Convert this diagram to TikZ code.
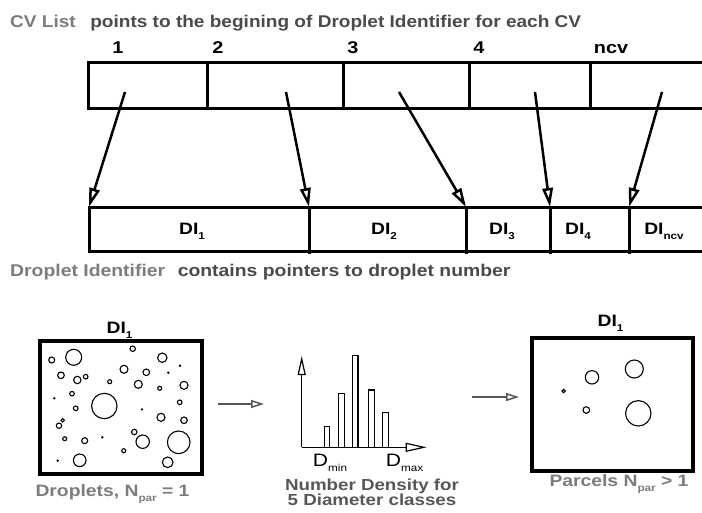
\documentclass[tikz,border=0pt]{standalone}
\usepackage{fontspec}
\usepackage{graphicx}
\setmainfont{Liberation Sans}
\usetikzlibrary{arrows.meta}
\definecolor{lgray}{HTML}{7C7C7C}
\definecolor{dgray}{HTML}{4A4A4A}
\definecolor{mgray}{HTML}{575757}
\newcommand\hs[1]{\scalebox{1.17}[1]{#1}}
\newcommand\lowsub[1]{\raisebox{-5pt}{\fontsize{10}{10}\selectfont #1}}
\begin{document}
\begin{tikzpicture}[x=1pt,y=-1pt,
  boxline/.style={line width=3pt},
  bigbox/.style={line width=3.5pt},
  ptr/.style={line width=2.5pt,-{Triangle[open,length=19pt,width=10.5pt]}},
  flow/.style={line width=1.5pt,mgray,-{Triangle[open,length=13pt,width=8pt]}},
  axis/.style={line width=1.2pt,-{Triangle[open,length=19pt,width=8pt]}},
  bar/.style={line width=1.2pt},
  drop/.style={line width=1.1pt},
  dot/.style={fill=black},
  num/.style={font=\fontsize{17}{17}\selectfont\bfseries,inner sep=0pt,anchor=base},
  title/.style={font=\fontsize{17}{17}\selectfont\bfseries,inner sep=0pt,anchor=base west},
  caption/.style={font=\fontsize{16.5}{16.5}\selectfont\bfseries,inner sep=0pt,anchor=base,lgray}
]
\useasboundingbox (0,0) rectangle (702,512);

% ---------- title
\node[title] (title) at (10,27.5) {\scalebox{1.12}[1]{\textcolor{lgray}{CV List}\hspace{13pt}\textcolor{dgray}{points to the begining of Droplet Identifier for each CV}}};

% ---------- CV list row
\node[num] (n1) at (118,53) {\hs{1}};
\node[num] (n2) at (218,53) {\hs{2}};
\node[num] (n3) at (353,53) {\hs{3}};
\node[num] (n4) at (479,53) {\hs{4}};
\node[num] (n5) at (611,53) {\hs{ncv}};

\draw[boxline] (702,62) -- (88,62) -- (88,108) -- (702,108);
\foreach \x in {207,343,469,590} \draw[boxline] (\x,62) -- (\x,108);

\coordinate (s1) at (125,92);
\coordinate (s2) at (286,92);
\coordinate (s3) at (399,92);
\coordinate (s4) at (535,92);
\coordinate (s5) at (662,92);

% ---------- DI row
\draw[boxline] (702,207) -- (89,207) -- (89,251) -- (702,251);
\foreach \x in {309,466,550,629} \draw[boxline] (\x,207) -- (\x,254);

\coordinate (t1) at (89,207);
\coordinate (t2) at (309,207);
\coordinate (t3) at (466,207);
\coordinate (t4) at (550,207);
\coordinate (t5) at (629,207);

\node[num,font=\fontsize{16.5}{16.5}\selectfont\bfseries] (d1) at (192,234) {\hs{DI\lowsub{1}}};
\node[num,font=\fontsize{16.5}{16.5}\selectfont\bfseries] (d2) at (384,234) {\hs{DI\lowsub{2}}};
\node[num,font=\fontsize{16.5}{16.5}\selectfont\bfseries] (d3) at (502,234) {\hs{DI\lowsub{3}}};
\node[num,font=\fontsize{16.5}{16.5}\selectfont\bfseries] (d4) at (578,234) {\hs{DI\lowsub{4}}};
\node[num,font=\fontsize{16.5}{16.5}\selectfont\bfseries] (d5) at (664,234) {\hs{DI\lowsub{ncv}}};

\foreach \i in {1,...,5} \draw[ptr] (s\i) -- (t\i);

\node[title] (title2) at (10,276) {\scalebox{1.14}[1]{\textcolor{lgray}{Droplet Identifier}\hspace{11pt}\textcolor{dgray}{contains pointers to droplet number}}};

% ---------- droplets box
\node[num,font=\fontsize{16.5}{16.5}\selectfont\bfseries] (dlabel) at (119.5,333) {\hs{DI\lowsub{1}}};
\draw[bigbox] (40,341) rectangle (202,474);
\foreach \x/\y/\r in {51.7/360/3, 73.7/357.3/8, 132.7/348.7/2.7, 162.3/357.7/4.7,
  61/375.3/3.3, 77.3/380/3.7, 85.7/376.7/2.3, 109.7/381.7/2, 124/369.3/4, 146.3/372.3/3.3,
  138.3/384.3/4, 159.7/388.3/2, 184/385.3/4, 72/393.7/2.3, 104.3/406/12.7, 75.7/408.3/2.3,
  179.7/402.3/2.3, 161/417.3/4, 184/420.3/3.3, 59/425.7/2.7, 62.7/420.3/1.7, 64.7/438.7/2,
  84.7/440.7/3, 134.3/432/2.7, 142.7/441.7/6.7, 178.7/442.3/11.3, 123.7/450.7/2,
  79.7/460.3/6.3, 167.7/462.3/5.3}
  \draw[drop] (\x,\y) circle[radius=\r];
\foreach \x/\y in {180/365.7, 168.3/372.7, 54.3/398.3, 142/409.3, 102.3/437.3, 57.7/460.7}
  \fill[dot] (\x,\y) circle[radius=1.3];
\node[caption] (cap1) at (112.5,496.5) {\hs{Droplets, N\lowsub{par} = 1}};

% ---------- arrow to histogram
\coordinate (f1a) at (218,404);
\coordinate (f1b) at (264,404);
\draw[flow] (f1a) -- (f1b);

% ---------- histogram
\coordinate (o) at (301.7,447.3);
\coordinate (ytop) at (301.7,356);
\coordinate (xend) at (426.7,447.3);
\draw[axis] (o) -- (ytop);
\draw[axis,-{Triangle[open,length=21pt,width=9pt]}] (o) -- (xend);
\foreach \a/\b/\t in {324.3/329.3/426.7, 338.7/344.3/393.3, 352.7/358/355.3, 368.3/374.7/390, 382.3/388.3/412.3}
  \draw[bar] (\a,447.3) -- (\a,\t) -- (\b,\t) -- (\b,447.3);
\node[inner sep=0pt,anchor=base,font=\fontsize{18}{18}\selectfont] (dmin) at (330,466.5) {\hs{D\lowsub{min}}};
\node[inner sep=0pt,anchor=base,font=\fontsize{18}{18}\selectfont] (dmax) at (404.5,466.5) {\hs{D\lowsub{max}}};
\node[inner sep=0pt,anchor=base,font=\fontsize{16}{16}\selectfont\bfseries,text=mgray] (hcap1) at (372,490.5) {\hs{Number Density for}};
\node[inner sep=0pt,anchor=base,font=\fontsize{16}{16}\selectfont\bfseries,text=mgray] (hcap2) at (372,505) {\hs{5 Diameter classes}};

% ---------- arrow to parcels
\coordinate (f2a) at (472,397);
\coordinate (f2b) at (519,397);
\draw[flow] (f2a) -- (f2b);

% ---------- parcels box
\node[num,font=\fontsize{16.5}{16.5}\selectfont\bfseries] (plabel) at (610.5,326.5) {\hs{DI\lowsub{1}}};
\draw[bigbox] (532,338) rectangle (693,471);
\foreach \x/\y/\r in {563.7/391/1.7, 592/377.3/6.7, 634.3/369/9, 586.3/410/3.3, 638.3/413.3/12.7}
  \draw[drop] (\x,\y) circle[radius=\r];
\node[caption] (cap3) at (619,486.5) {\hs{Parcels N\lowsub{par} > 1}};
\end{tikzpicture}
\end{document}
